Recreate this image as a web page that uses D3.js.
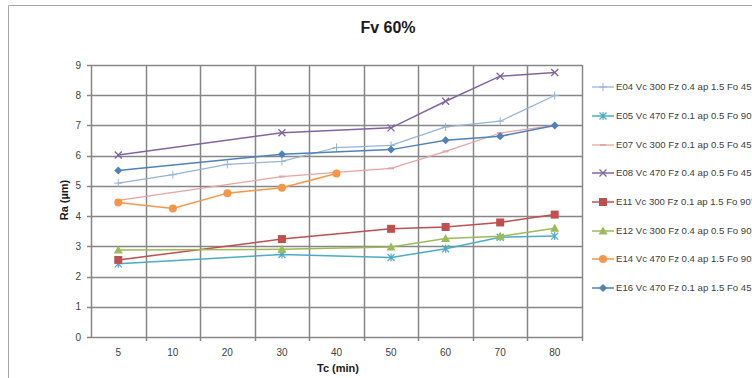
<!DOCTYPE html>
<html><head><meta charset="utf-8">
<script src="https://cdn.jsdelivr.net/npm/d3@7/dist/d3.min.js"></script>
<style>body{margin:0;background:#fff;overflow:hidden}svg{display:block}text{font-family:"Liberation Sans",Arial,sans-serif}</style>
</head><body><svg id="c" width="752" height="378"></svg>
<script>
const categories = [5, 10, 20, 30, 40, 50, 60, 70, 80];
const yTicks = [0, 1, 2, 3, 4, 5, 6, 7, 8, 9];
const seriesNames = [
  "E04 Vc 300 Fz 0.4 ap 1.5 Fo 45°",
  "E05 Vc 470 Fz 0.1 ap 0.5 Fo 90°",
  "E07 Vc 300 Fz 0.1 ap 0.5 Fo 45°",
  "E08 Vc 470 Fz 0.4 ap 0.5 Fo 45°",
  "E11 Vc 300 Fz 0.1 ap 1.5 Fo 90°",
  "E12 Vc 300 Fz 0.4 ap 0.5 Fo 90°",
  "E14 Vc 470 Fz 0.4 ap 1.5 Fo 90°",
  "E16 Vc 470 Fz 0.1 ap 1.5 Fo 45°"
];
const E04 = [5.09, 5.37, 5.71, 5.81, 6.27, 6.34, 6.95, 7.14, 7.99];
const E05 = [2.42, null, null, 2.73, null, 2.63, 2.92, 3.30, 3.34];
const E07 = [4.52, null, null, 5.31, 5.45, 5.58, 6.14, 6.75, 7.00];
const E08 = [6.02, null, null, 6.76, null, 6.92, 7.80, 8.63, 8.75];
const E11 = [2.55, null, null, 3.24, null, 3.58, 3.64, 3.79, 4.05];
const E12 = [2.88, null, null, 2.90, null, 2.98, 3.26, 3.33, 3.60];
const E14 = [4.45, 4.25, 4.76, 4.94, 5.41, null, null, null, null];
const E16 = [5.51, null, null, 6.05, null, 6.20, 6.51, 6.64, 7.00];
const seriesValues = [E04, E05, E07, E08, E11, E12, E14, E16];
const colors = ["#95B3D7", "#4BACC6", "#E6A3A1", "#8064A2", "#C0504D", "#9BBB59", "#F79646", "#4F81BD"];
const markers = ["plus", "star", "dash", "cross", "square", "triangle", "circle", "diamond"];
const lineWidths = [1.25, 1.5, 1.25, 1.5, 1.5, 1.5, 1.5, 1.5];

const svg = d3.select("#c");
const L = 91, R = 582, T = 65, B = 337;
const x = d3.scaleBand().domain(categories).range([L, R]).padding(0);
const y = d3.scaleLinear().domain([0, 9]).range([B, T]);
const cx = d => x(d) + x.bandwidth() / 2;

// outer chart border
svg.append("path").attr("d", "M8.5,378 V5.5 H752").attr("fill", "none").attr("stroke", "#a6a6a6").attr("stroke-width", 1);

const grid = "#868686";
// horizontal gridlines
svg.append("g").selectAll("line").data(yTicks).join("line")
  .attr("x1", L - 4).attr("x2", R).attr("y1", d => Math.round(y(d)) + 0.5).attr("y2", d => Math.round(y(d)) + 0.5)
  .attr("stroke", grid).attr("stroke-width", 1.5);
// vertical gridlines at band edges
const edges = categories.map(c => x(c) + x.bandwidth());
svg.append("g").selectAll("line").data(edges).join("line")
  .attr("x1", d => Math.round(d) + 0.5).attr("x2", d => Math.round(d) + 0.5).attr("y1", T).attr("y2", B + 4)
  .attr("stroke", grid).attr("stroke-width", 1.5);
// y axis line
svg.append("line").attr("x1", L + 0.5).attr("x2", L + 0.5).attr("y1", T).attr("y2", B + 1).attr("stroke", grid).attr("stroke-width", 1.5);

// y tick labels
svg.append("g").selectAll("text").data(yTicks).join("text")
  .attr("x", 81).attr("y", d => y(d) + 3.5).attr("text-anchor", "end")
  .attr("font-size", 10).attr("fill", "#404040").text(d => d);
// x tick labels
svg.append("g").selectAll("text").data(categories).join("text")
  .attr("x", d => cx(d)).attr("y", 356).attr("text-anchor", "middle")
  .attr("font-size", 10).attr("fill", "#404040").text(d => d);

// titles
svg.append("text").attr("x", 388).attr("y", 33).attr("text-anchor", "middle")
  .attr("font-size", 16).attr("font-weight", "bold").attr("fill", "#1a1a1a").text("Fv 60%");
svg.append("text").attr("x", 338).attr("y", 372).attr("text-anchor", "middle")
  .attr("font-size", 11).attr("font-weight", "bold").attr("fill", "#1a1a1a").text("Tc (min)");
svg.append("text").attr("transform", "translate(68,200) rotate(-90)").attr("text-anchor", "middle")
  .attr("font-size", 11).attr("font-weight", "bold").attr("fill", "#1a1a1a").text("Ra (µm)");

function drawMarker(g, type, px, py, color) {
  if (type === "plus") {
    g.append("path").attr("d", `M${px-4},${py}H${px+4}M${px},${py-4}V${py+4}`).attr("stroke", color).attr("stroke-width", 1).attr("fill", "none");
  } else if (type === "star") {
    g.append("path").attr("d", `M${px-3.5},${py-3.5}L${px+3.5},${py+3.5}M${px-3.5},${py+3.5}L${px+3.5},${py-3.5}M${px},${py-4}V${py+4}`).attr("stroke", color).attr("stroke-width", 1.2).attr("fill", "none");
  } else if (type === "dash") {
    g.append("path").attr("d", `M${px-3},${py}H${px+3}`).attr("stroke", color).attr("stroke-width", 2).attr("fill", "none");
  } else if (type === "cross") {
    g.append("path").attr("d", `M${px-3.5},${py-3.5}L${px+3.5},${py+3.5}M${px-3.5},${py+3.5}L${px+3.5},${py-3.5}`).attr("stroke", color).attr("stroke-width", 1.3).attr("fill", "none");
  } else if (type === "square") {
    g.append("rect").attr("x", px - 4).attr("y", py - 4).attr("width", 8).attr("height", 8).attr("fill", color);
  } else if (type === "triangle") {
    g.append("path").attr("d", `M${px},${py-4.5}L${px+4.5},${py+3.5}L${px-4.5},${py+3.5}Z`).attr("fill", color);
  } else if (type === "circle") {
    g.append("circle").attr("cx", px).attr("cy", py).attr("r", 4).attr("fill", color);
  } else if (type === "diamond") {
    g.append("path").attr("d", `M${px},${py-4}L${px+4},${py}L${px},${py+4}L${px-4},${py}Z`).attr("fill", color);
  }
}

const line = d3.line().x(d => cx(d.c)).y(d => y(d.v));
seriesValues.forEach((vals, i) => {
  const pts = categories.map((c, j) => ({c, v: vals[j]})).filter(d => d.v !== null);
  const g = svg.append("g");
  g.append("path").attr("d", line(pts)).attr("fill", "none").attr("stroke", colors[i]).attr("stroke-width", lineWidths[i]);
  pts.forEach(p => drawMarker(g, markers[i], cx(p.c), y(p.v), colors[i]));
});

// legend
const legY = [87, 116, 145, 173, 202, 231, 259, 288];
seriesNames.forEach((name, i) => {
  const g = svg.append("g");
  const ly = legY[i];
  g.append("line").attr("x1", 592).attr("x2", 614).attr("y1", ly).attr("y2", ly).attr("stroke", colors[i]).attr("stroke-width", lineWidths[i]);
  drawMarker(g, markers[i], 603, ly, colors[i]);
  g.append("text").attr("x", 616).attr("y", ly + 3.4).attr("font-size", 9.6).attr("fill", "#404040").text(name);
});
</script></body></html>
